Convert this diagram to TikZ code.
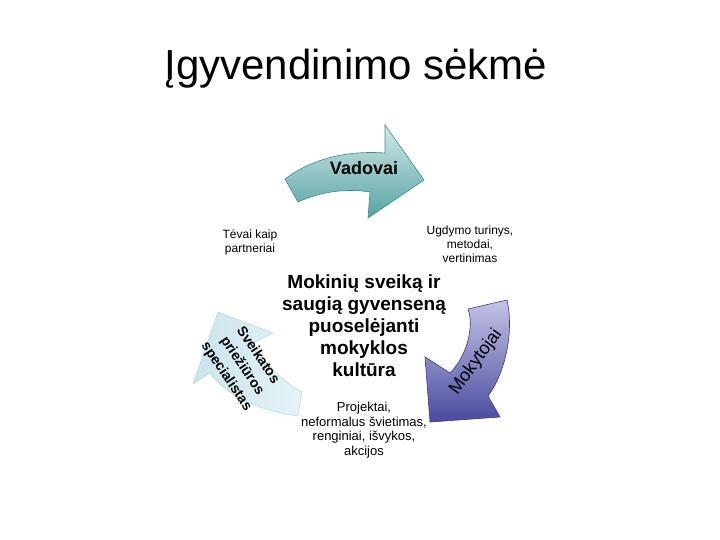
\documentclass[tikz,border=0pt]{standalone}
\usepackage{fontspec}
\setmainfont{Liberation Sans}
\definecolor{tealL}{HTML}{D2E8E8}
\definecolor{tealD}{HTML}{57A3A3}
\definecolor{tealE}{HTML}{3E8C8C}
\definecolor{purL}{HTML}{C4C4E6}
\definecolor{purD}{HTML}{4A4AA0}
\definecolor{purE}{HTML}{3A3A88}
\definecolor{bluL}{HTML}{C9E5EC}
\definecolor{bluW}{HTML}{E6F3F6}
\definecolor{bluE}{HTML}{B2D8E2}
\begin{document}
\begin{tikzpicture}[x=1pt,y=-1pt,
  title/.style={font=\fontsize{42}{48}\selectfont},
  arrowlbl/.style={font=\bfseries\fontsize{18}{21}\selectfont},
  centertxt/.style={align=center,font=\bfseries\fontsize{19}{22}\selectfont},
  smalltxt/.style={align=center,font=\fontsize{12}{14}\selectfont},
  smalltxtb/.style={align=center,font=\fontsize{13}{14.5}\selectfont},
  bluetxt/.style={align=center,font=\bfseries\fontsize{14}{19}\selectfont},
  inner sep=0pt]
\useasboundingbox (0,0) rectangle (720,540);
% title
\node[title,anchor=base] (title) at (356,80) {Įgyvendinimo sėkmė};
% Vadovai arrow (teal)
\path[draw=tealE,line width=0.6pt,left color=tealL,right color=tealD,shading angle=0]
  (285,179) .. controls (310,160) and (345,150) .. (385,153)
  -- (385,125) -- (424,180) -- (368,218) -- (370,192)
  .. controls (345,188) and (320,192) .. (298,202) -- cycle;
\node[arrowlbl] (vad) at (364,168) {Vadovai};
% Mokytojai arrow (purple)
\path[draw=purE,line width=0.6pt,top color=purL,bottom color=purD]
  (468,309) -- (507,300)
  .. controls (514,330) and (506,372) .. (488,396)
  -- (500,417) -- (430,422) -- (425,357) -- (450,373)
  .. controls (468,355) and (474,325) .. cycle;
\node[font=\fontsize{18}{21}\selectfont,rotate=54] (mok) at (476,362) {Mokytojai};
% Sveikatos arrow (light blue)
\path[draw=bluE,line width=0.5pt,left color=bluL,right color=bluW]
  (298,416) -- (302,392)
  .. controls (282,382) and (265,362) .. (252,344)
  -- (273,333) -- (218,312) -- (193,384) -- (210,373)
  .. controls (228,398) and (265,412) .. cycle;
\node[bluetxt,rotate=-56] (sve) at (242,366) {Sveikatos\\priežiūros\\specialistas};
% centre text
\node[centertxt] (ctr) at (364,326) {Mokinių sveiką ir\\saugią gyvenseną\\puoselėjanti\\mokyklos\\kultūra};
% side texts
\node[smalltxt] (ugd) at (470,244) {Ugdymo turinys,\\metodai,\\vertinimas};
\node[smalltxt] (tev) at (250,242) {Tėvai kaip\\partneriai};
\node[smalltxtb] (proj) at (364,430) {Projektai,\\neformalus švietimas,\\renginiai, išvykos,\\akcijos};
\end{tikzpicture}
\end{document}
